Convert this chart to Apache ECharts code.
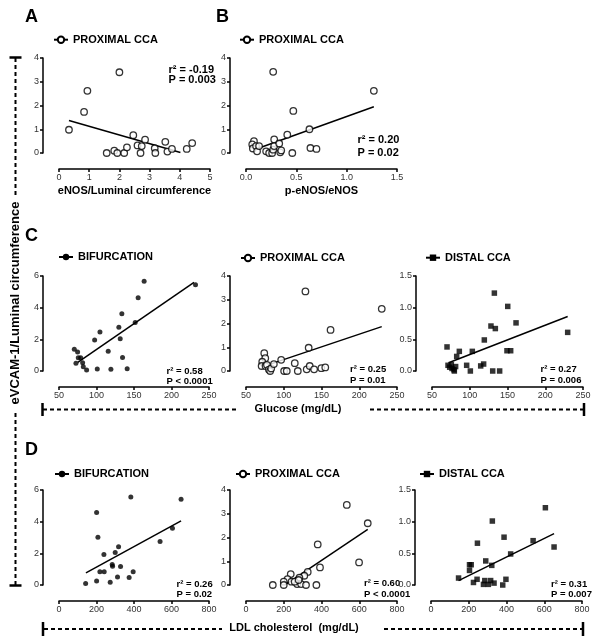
<!DOCTYPE html>
<html><head><meta charset="utf-8">
<script src="https://cdn.jsdelivr.net/npm/echarts@6/dist/echarts.min.js"></script>
<style>html,body{margin:0;padding:0;background:#fff}#c{width:599px;height:644px}</style>
</head><body><div id="c"></div>
<script>
// ---------------- DATA ----------------
// Panel A: eNOS/Luminal circumference vs eVCAM-1 (PROXIMAL CCA)
const aX = [0.33,0.83,0.94,2.00,1.58,1.83,1.93,2.16,2.25,2.46,2.60,2.74,2.70,2.85,3.17,3.19,3.52,3.59,3.74,4.23,4.41];
const aY = [0.98,1.73,2.62,3.40,0.00,0.10,0.00,0.00,0.24,0.75,0.32,0.29,0.00,0.56,0.20,0.00,0.47,0.06,0.17,0.17,0.42];
const aFit = [[0.33,1.37],[4.02,0.02]];
// Panel B: p-eNOS/eNOS (PROXIMAL CCA)
const bX = [0.079,0.062,0.068,0.10,0.11,0.13,0.20,0.23,0.26,0.27,0.28,0.28,0.33,0.34,0.35,0.41,0.46,0.47,0.27,0.63,0.64,0.70,1.27];
const bY = [0.50,0.36,0.19,0.29,0.07,0.29,0.07,0.00,0.00,0.14,0.29,0.57,0.40,0.03,0.11,0.77,0.00,1.77,3.42,1.00,0.21,0.17,2.62];
const bFit = [[0.13,0.21],[1.27,1.95]];
// Panel C: Glucose (mg/dL)
const c1X = [163.5,232,155.5,133.8,151.6,129.8,104.6,97.5,131.6,115.6,134.7,70.4,74.8,75.7,78.9,72.6,82.4,81.5,86.8,101,119.2,140.9];
const c1Y = [5.67,5.45,4.63,3.62,3.07,2.76,2.46,1.96,2.04,1.24,0.86,1.37,1.20,0.84,0.84,0.49,0.27,0.52,0.06,0.13,0.11,0.15];
const c1Fit = [[75,0.55],[230,5.6]];
const c2X = [128.7,229.8,162,133,96.6,114.6,74.2,75.5,71.5,70.7,75.9,77.7,80.3,82,83.4,86.9,100.5,104,118.6,130.4,134.4,140.2,149.8,155];
const c2Y = [3.35,2.62,1.73,0.98,0.47,0.33,0.75,0.54,0.39,0.21,0.21,0.26,0.06,0.00,0.11,0.29,0.00,0.00,0.00,0.07,0.21,0.07,0.12,0.15];
const c2Fit = [[83,0.30],[229.8,1.87]];
const c3X = [132.6,150.3,161.3,128.1,133.9,119.3,229.7,69.9,86.2,103.4,149.3,154.2,82.7,71.2,73.4,75.6,76.5,79.1,79.6,81.3,95.9,100.8,114.5,118.4,130.4,139.6];
const c3Y = [1.23,1.02,0.76,0.71,0.67,0.49,0.61,0.38,0.31,0.31,0.32,0.32,0.23,0.09,0.06,0.10,0.04,0.02,0.00,0.07,0.09,0.00,0.08,0.11,0.00,0.00];
const c3Fit = [[72,0.13],[229.7,0.86]];
// Panel D: LDL cholesterol (mg/dL)
const d1X = [383,651,200.6,207.5,605,539,317.7,239.5,299.7,283.8,285.6,328.3,218,241,395.5,312,374,200.6,273,142];
const d1Y = [5.56,5.41,4.58,3.01,3.59,2.74,2.42,1.92,2.05,1.30,1.19,1.17,0.84,0.84,0.84,0.50,0.48,0.25,0.17,0.10];
const d1Fit = [[143.7,0.77],[651,4.05]];
const d2X = [534,645,380,599,392,327,309,283,237,220,200,241,200,142,271,292,318,373,258,279];
const d2Y = [3.37,2.60,1.71,0.95,0.74,0.55,0.39,0.31,0.46,0.25,0.14,0.14,0.00,0.00,0.04,0.04,0.00,0.00,0.14,0.21];
const d2Fit = [[213,0.04],[645,2.34]];
const d3X = [606,325,387,246,541,652,422,290,322,204,213,204,146,244,225,285,278,304,316,334,380,397];
const d3Y = [1.22,1.01,0.755,0.66,0.70,0.60,0.49,0.38,0.31,0.32,0.32,0.23,0.11,0.09,0.04,0.07,0.01,0.01,0.07,0.03,0.00,0.09];
const d3Fit = [[146,0.07],[652,0.81]];

const seriesNames = ['PROXIMAL CCA','BIFURCATION','DISTAL CCA'];
const statR = ['r\u00b2 = -0.19','r\u00b2 = 0.20','r\u00b2 = 0.58','r\u00b2 = 0.25','r\u00b2 = 0.27','r\u00b2 = 0.26','r\u00b2 = 0.60','r\u00b2 = 0.31'];
const statP = ['P = 0.003','P = 0.02','P < 0.0001','P = 0.01','P = 0.006','P = 0.02','P < 0.0001','P = 0.007'];
const xNames = ['eNOS/Luminal circumference','p-eNOS/eNOS'];
const yTitle = 'eVCAM-1/Luminal circumference';
const glucoseTitle = 'Glucose (mg/dL)';
const ldlTitle = 'LDL cholesterol  (mg/dL)';

// ---------------- LAYOUT ----------------
const FONT = '"Liberation Sans", Arial, Helvetica, sans-serif';
const panels = [
  {x:aX,y:aY,fit:aFit,name:0,grid:[59,58,151,95],xr:[0,5,1,0],yr:[0,4,1,0],xName:xNames[0],leg:[53,40.7],st:[168.5,70,80,11]},
  {x:bX,y:bY,fit:bFit,name:0,grid:[246,58,151,95],xr:[0,1.5,0.5,1],yr:[0,4,1,0],xName:xNames[1],leg:[239,40.7],st:[357.5,139.5,152.5,11]},
  {x:c1X,y:c1Y,fit:c1Fit,name:1,grid:[59,276,150,95],xr:[50,250,50,0],yr:[0,6,2,0],leg:[58,258],st:[166.5,371,381,9.5]},
  {x:c2X,y:c2Y,fit:c2Fit,name:0,grid:[246,276,151,95],xr:[50,250,50,0],yr:[0,4,1,0],leg:[240,259],st:[350,369.5,380,9.5]},
  {x:c3X,y:c3Y,fit:c3Fit,name:2,grid:[432,276,151,95],xr:[50,250,50,0],yr:[0,1.5,0.5,1],leg:[425,258.7],st:[540.5,369,380,9.5]},
  {x:d1X,y:d1Y,fit:d1Fit,name:1,grid:[59,490,150,95],xr:[0,800,200,0],yr:[0,6,2,0],leg:[54,475],st:[176.5,584,594,9.5]},
  {x:d2X,y:d2Y,fit:d2Fit,name:0,grid:[246,490,151,95],xr:[0,800,200,0],yr:[0,4,1,0],leg:[235,475],st:[364,583.5,594,9.5]},
  {x:d3X,y:d3Y,fit:d3Fit,name:2,grid:[431,490,151,95],xr:[0,800,200,0],yr:[0,1.5,0.5,1],leg:[419,475],st:[551,584,594,9.5]}
];
const markerStyle = [
  {symbol:'emptyCircle', size:6.5, scatterSymbol:'circle', item:{color:'#fff',borderColor:'#000',borderWidth:1.3}},
  {symbol:'circle', size:5, scatterSymbol:'circle', item:{color:'#000'}},
  {symbol:'rect', size:5.5, scatterSymbol:'rect', item:{color:'#000'}}
];

const grid=[], xAxis=[], yAxis=[], series=[], legend=[], graphic=[];
const axisBase = (dec)=>({
  type:'value', offset:16, splitLine:{show:false},
  axisLine:{show:true,onZero:false,lineStyle:{color:'#000',width:1.5}},
  axisTick:{show:true,length:3,lineStyle:{color:'#000',width:1.5}},
  axisLabel:{fontSize:9,color:'#333',fontFamily:FONT,formatter:v=>v.toFixed(dec),showMinLabel:true,showMaxLabel:true,hideOverlap:false}
});
panels.forEach((p,i)=>{
  grid.push({left:p.grid[0],top:p.grid[1],width:p.grid[2],height:p.grid[3],containLabel:false,outerBoundsMode:'none'});
  const xa = Object.assign(axisBase(p.xr[3]),{gridIndex:i,min:p.xr[0],max:p.xr[1],interval:p.xr[2]});
  xa.axisLabel.margin = 4;
  if (p.xName){ Object.assign(xa,{name:p.xName,nameLocation:'middle',nameGap:16,nameTextStyle:{fontSize:11,fontWeight:'bold',color:'#000',fontFamily:FONT,verticalAlign:'top'}}); }
  xAxis.push(xa);
  const ya = Object.assign(axisBase(p.yr[3]),{gridIndex:i,min:p.yr[0],max:p.yr[1],interval:p.yr[2]});
  ya.axisLabel.margin = 4;
  yAxis.push(ya);
  const m = markerStyle[p.name];
  series.push({type:'scatter',name:'pts'+i,xAxisIndex:i,yAxisIndex:i,symbol:m.scatterSymbol,symbolSize:m.size,itemStyle:m.item,
    data:p.x.map((v,k)=>[v,p.y[k]]),z:3,silent:true});
  series.push({type:'line',name:seriesNames[p.name],xAxisIndex:i,yAxisIndex:i,data:p.fit,showSymbol:false,symbol:m.symbol,symbolSize:m.size,
    lineStyle:{color:'#000',width:1.5},itemStyle:{color:'#000'},z:2,silent:true});
  legend.push({left:p.leg[0],top:p.leg[1]-6.5,padding:0,data:[seriesNames[p.name]],itemWidth:14,itemHeight:8,itemGap:5,
    selectedMode:false,textStyle:{fontSize:11,fontWeight:'bold',color:'#000',fontFamily:FONT}});
  graphic.push({type:'text',x:p.st[0],y:p.st[1],style:{text:statR[i],fontSize:p.st[3],fontWeight:'bold',fontFamily:FONT,fill:'#000',align:'left',verticalAlign:'middle'}});
  graphic.push({type:'text',x:p.st[0],y:p.st[2],style:{text:statP[i],fontSize:p.st[3],fontWeight:'bold',fontFamily:FONT,fill:'#000',align:'left',verticalAlign:'middle'}});
});
// panel letters
[['A',25,17],['B',216,17],['C',25,236],['D',25,450]].forEach(l=>{
  graphic.push({type:'text',x:l[1],y:l[2],style:{text:l[0],fontSize:18,fontWeight:'bold',fontFamily:FONT,fill:'#000',align:'left',verticalAlign:'middle'}});
});
// decorative bracket lines
const dash = {stroke:'#000',lineWidth:2,lineDash:[4,3]};
const solid = {stroke:'#000',lineWidth:2.5};
const L=(x1,y1,x2,y2,st)=>graphic.push({type:'line',shape:{x1,y1,x2,y2},style:st,silent:true});
// vertical
L(9.5,57.5,21.5,57.5,solid); L(15.5,58,15.5,197,dash); L(15.5,413,15.5,585,dash); L(9.5,585.5,21.5,585.5,solid);
graphic.push({type:'text',x:15.5,y:303,rotation:Math.PI/2,style:{text:yTitle,fontSize:13,fontWeight:'bold',fontFamily:FONT,fill:'#000',align:'center',verticalAlign:'middle'}});
// row C
L(42.5,403,42.5,416,solid); L(43,409.5,238,409.5,dash); L(370,409.5,583,409.5,dash); L(584,403,584,416,solid);
graphic.push({type:'text',x:298,y:409,style:{text:glucoseTitle,fontSize:11,fontWeight:'bold',fontFamily:FONT,fill:'#000',align:'center',verticalAlign:'middle'}});
// row D
L(43,622,43,636,solid); L(44,629,222,629,dash); L(384,629,582,629,dash); L(583,622,583,636,solid);
graphic.push({type:'text',x:294,y:627.5,style:{text:ldlTitle,fontSize:11,fontWeight:'bold',fontFamily:FONT,fill:'#000',align:'center',verticalAlign:'middle'}});

const chart = echarts.init(document.getElementById('c'),null,{renderer:'canvas'});
chart.setOption({animation:false,backgroundColor:'#fff',textStyle:{fontFamily:FONT},grid,xAxis,yAxis,series,legend,graphic});
</script></body></html>
